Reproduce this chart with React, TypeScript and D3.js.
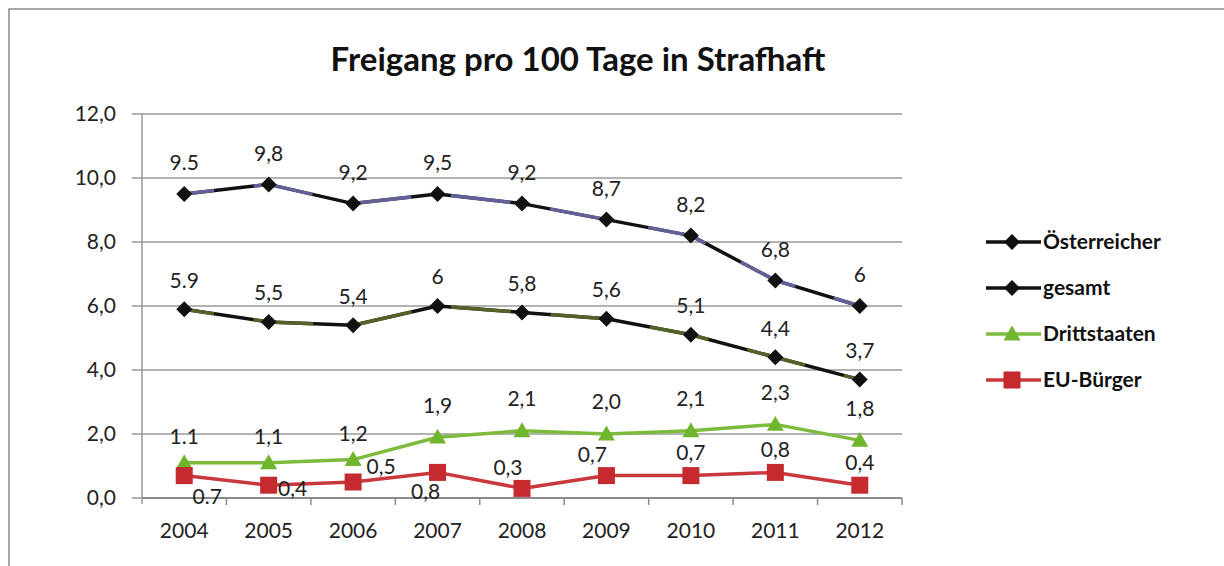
import React from "react";
import * as d3 from "d3";

const years = ["2004", "2005", "2006", "2007", "2008", "2009", "2010", "2011", "2012"];
const oesterreicher = [9.5, 9.8, 9.2, 9.5, 9.2, 8.7, 8.2, 6.8, 6.0];
const gesamt = [5.9, 5.5, 5.4, 6.0, 5.8, 5.6, 5.1, 4.4, 3.7];
const drittstaaten = [1.1, 1.1, 1.2, 1.9, 2.1, 2.0, 2.1, 2.3, 1.8];
const euBuerger = [0.7, 0.4, 0.5, 0.8, 0.3, 0.7, 0.7, 0.8, 0.4];

const oeLabels = ["9.5", "9,8", "9,2", "9,5", "9,2", "8,7", "8,2", "6,8", "6"];
const geLabels = ["5.9", "5,5", "5,4", "6", "5,8", "5,6", "5,1", "4,4", "3,7"];
const drLabels = ["1.1", "1,1", "1,2", "1,9", "2,1", "2,0", "2,1", "2,3", "1,8"];
const euLabels = ["0.7", "0,4", "0,5", "0,8", "0,3", "0,7", "0,7", "0,8", "0,4"];
const euPlacement = ["below-right", "right", "above-right", "below-left", "above-left", "above-left", "above", "above", "above"];

const yTicks = [0, 2, 4, 6, 8, 10, 12];
const title = "Freigang pro 100 Tage in Strafhaft";

const FONT = "Lato, 'Open Sans', sans-serif";

export default function App() {
  const W = 1224, H = 566;
  const x = d3.scaleBand<string>().domain(years).range([142, 902]);
  const bw = x.bandwidth();
  const cx = (i: number) => (x(years[i]) as number) + bw / 2;
  const y = d3.scaleLinear().domain([0, 12]).range([498, 114]);
  const line = d3.line<number>().x((_, i) => cx(i)).y((d) => y(d));

  const series = [
    { name: "Österreicher", data: oesterreicher, labels: oeLabels, color: "#111", tint: "#6a6aa6", marker: "diamond", mcolor: "#111" },
    { name: "gesamt", data: gesamt, labels: geLabels, color: "#111", tint: "#5c6a2a", marker: "diamond", mcolor: "#111" },
    { name: "Drittstaaten", data: drittstaaten, labels: drLabels, color: "#7dbb3c", tint: "", marker: "triangle", mcolor: "#6fb52e" },
    { name: "EU-Bürger", data: euBuerger, labels: euLabels, color: "#c8383c", tint: "", marker: "square", mcolor: "#c42a2e" },
  ];

  const marker = (type: string, px: number, py: number, color: string, key: string) => {
    if (type === "diamond") {
      const s = 8;
      return <path key={key} d={`M${px},${py - s}L${px + s},${py}L${px},${py + s}L${px - s},${py}Z`} fill={color} />;
    }
    if (type === "triangle") {
      const s = 8.5;
      return <path key={key} d={`M${px},${py - s}L${px + s},${py + s * 0.75}L${px - s},${py + s * 0.75}Z`} fill={color} />;
    }
    const s = 8.5;
    return <rect key={key} x={px - s} y={py - s} width={2 * s} height={2 * s} fill={color} />;
  };

  const euOffset = (p: string) => {
    switch (p) {
      case "below-right": return [23, 21];
      case "right": return [24, 3];
      case "above-right": return [28, -15];
      case "below-left": return [-12, 19];
      case "above-left": return [-14, -21];
      default: return [0, -23];
    }
  };

  return (
    <svg width={W} height={H} style={{ position: "absolute", left: 0, top: 0, background: "#fff" }} fontFamily={FONT}>
      <rect x={0} y={0} width={W} height={H} fill="#fff" />
      <rect x={9} y={9} width={W + 20} height={H + 20} fill="none" stroke="#8a8a8a" strokeWidth={1.5} />
      <text x={578} y={71} textAnchor="middle" fontSize={33} fontWeight="bold" fill="#111">{title}</text>

      {yTicks.map((t) => (
        <g key={t}>
          <line x1={132} x2={902} y1={y(t)} y2={y(t)} stroke="#9a9a9a" strokeWidth={1.5} />
          <text x={116} y={y(t)} dy="0.35em" textAnchor="end" fontSize={21} fill="#222">{d3.format(".1f")(t).replace(".", ",")}</text>
        </g>
      ))}
      <line x1={142} x2={142} y1={114} y2={504} stroke="#9a9a9a" strokeWidth={1.5} />
      <line x1={142} x2={902} y1={y(0)} y2={y(0)} stroke="#8a8a8a" strokeWidth={2} />
      {years.map((yr, i) => (
        <g key={yr}>
          <line x1={(x(yr) as number) + bw} x2={(x(yr) as number) + bw} y1={y(0)} y2={y(0) + 7} stroke="#8a8a8a" strokeWidth={1.5} />
          <text x={cx(i)} y={531} dy="0.35em" textAnchor="middle" fontSize={21} fill="#222">{yr}</text>
        </g>
      ))}

      {series.map((s) => (
        <g key={s.name}>
          <path d={line(s.data) || ""} fill="none" stroke={s.color} strokeWidth={3.5} strokeLinejoin="round" />
          {s.tint && (
            <path d={line(s.data) || ""} fill="none" stroke={s.tint} strokeWidth={3.5} strokeDasharray="60 40" strokeDashoffset={-70} opacity={0.9} />
          )}
          {s.data.map((v, i) => marker(s.marker, cx(i), y(v), s.mcolor, s.name + i))}
        </g>
      ))}

      {series.map((s) =>
        s.labels.map((lab, i) => {
          let dx = 0, dy = -31;
          if (s.name === "Drittstaaten") dy = i < 3 ? -26 : -32;
          if (s.name === "gesamt") dy = -29;
          if (s.name === "EU-Bürger") [dx, dy] = euOffset(euPlacement[i]);
          return (
            <text key={s.name + "l" + i} x={cx(i) + dx} y={y(s.data[i]) + dy} dy="0.35em" textAnchor="middle" fontSize={21} fill="#222">{lab}</text>
          );
        })
      )}

      {series.map((s, i) => {
        const ly = 242 + i * 46;
        return (
          <g key={"leg" + s.name}>
            <line x1={986} x2={1041} y1={ly} y2={ly} stroke={s.color} strokeWidth={3.5} />
            {marker(s.marker, 1012, ly, s.mcolor, "lm" + i)}
            <text x={1043} y={ly} dy="0.35em" fontSize={21} fontWeight="bold" fill="#111">{s.name}</text>
          </g>
        );
      })}
    </svg>
  );
}
